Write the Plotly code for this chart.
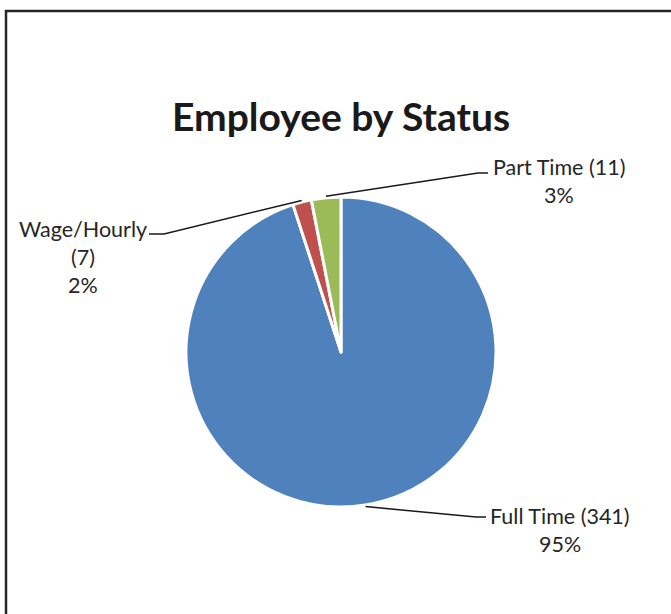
import math
import plotly.graph_objects as go

categories = ["Full Time", "Wage/Hourly", "Part Time"]
counts = [341, 7, 11]
colors = ["#4F81BD", "#C0504D", "#9BBB59"]
title_text = "Employee by Status"

W, H = 671, 614
cx, cy, R = 341, 352, 155  # pie centre / radius in pixels

def px(x):
    return x / W

def py(y):
    return 1 - y / H

fig = go.Figure(go.Pie(
    labels=categories, values=counts, sort=False, direction="clockwise",
    rotation=0, textinfo="none", hoverinfo="label+value+percent",
    marker=dict(colors=colors, line=dict(color="white", width=3)),
    domain=dict(x=[px(cx - R), px(cx + R)], y=[py(cy + R), py(cy - R)]),
    showlegend=False,
))

total = sum(counts)
label_layout = {
    "Full Time": dict(elbow=(476, 517), end=(486, 517), tx=560, ty=[516, 544]),
    "Wage/Hourly": dict(elbow=(164, 234), end=(149, 234), tx=83, ty=[229, 257, 285]),
    "Part Time": dict(elbow=(478, 173), end=(488, 173), tx=559, ty=[167, 195]),
}
text_lines = {
    "Full Time": ["Full Time (341)", "95%"],
    "Wage/Hourly": ["Wage/Hourly", "(7)", "2%"],
    "Part Time": ["Part Time (11)", "3%"],
}

shapes = []
annotations = []
cum = 0
for cat, v in zip(categories, counts):
    mid = (cum + v / 2) / total
    cum += v
    ang = 2 * math.pi * mid
    sx = cx + R * 1.01 * math.sin(ang)
    sy = cy - R * 1.01 * math.cos(ang)
    lay = label_layout[cat]
    ex, ey = lay["elbow"]
    fx, fy = lay["end"]
    shapes.append(dict(type="path", xref="paper", yref="paper",
                       path=f"M {px(sx)} {py(sy)} L {px(ex)} {py(ey)} L {px(fx)} {py(fy)}",
                       line=dict(color="#1a1a1a", width=1.5)))
    for line, yy in zip(text_lines[cat], lay["ty"]):
        annotations.append(dict(text=line, x=px(lay["tx"]), y=py(yy), xref="paper", yref="paper",
                                showarrow=False, xanchor="center", yanchor="middle",
                                font=dict(family="Lato", size=21.5, color="#262626")))

annotations.append(dict(text="<b>" + title_text + "</b>", x=px(341), y=py(116), xref="paper", yref="paper",
                        showarrow=False, xanchor="center", yanchor="middle",
                        font=dict(family="Lato", size=39, color="#1a1a1a")))

# outer chart frame (only left and top edges are visible in the crop)
shapes.append(dict(type="path", xref="paper", yref="paper",
                   path=f"M {px(6)} {py(H + 20)} L {px(6)} {py(11)} L {px(W + 20)} {py(11)}",
                   line=dict(color="#262626", width=2.5)))

fig.update_layout(width=W, height=H, margin=dict(l=0, r=0, t=0, b=0),
                  paper_bgcolor="white", plot_bgcolor="white",
                  shapes=shapes, annotations=annotations)
fig.write_html("out.html", config={"displayModeBar": False},
               post_script="document.body.style.margin='0px';"
                           "document.body.style.overflow='hidden';"
                           "document.documentElement.style.overflow='hidden';")
